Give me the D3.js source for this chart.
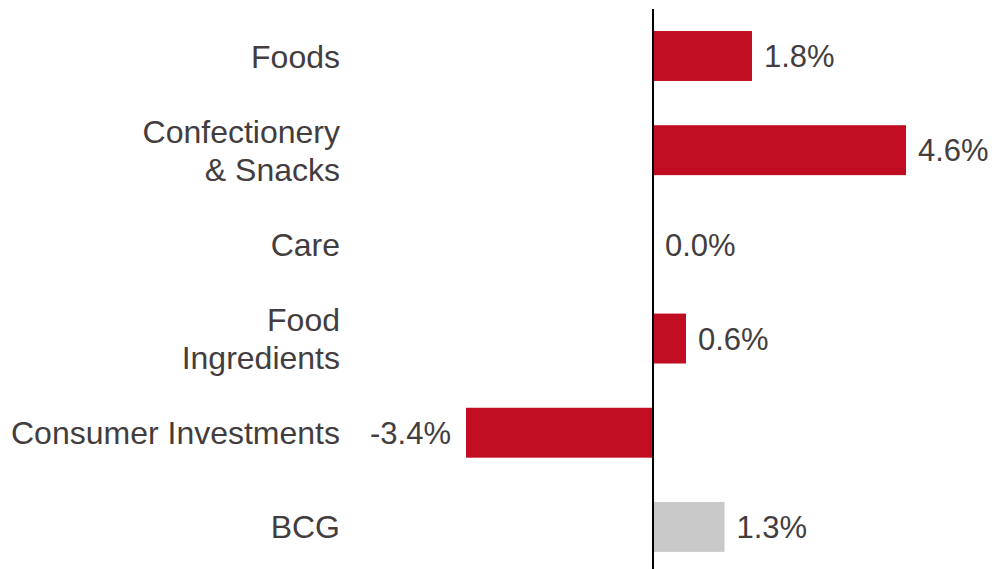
<!DOCTYPE html>
<html>
<head>
<meta charset="utf-8">
<script src="https://cdn.jsdelivr.net/npm/d3@7"></script>
<style>
  body { margin: 0; background: #fff; }
  text { font-family: "Liberation Sans", Arial, sans-serif; fill: #433d3f; }
</style>
</head>
<body>
<div id="chart"></div>
<script>
var categories = ["Foods", "Confectionery\n& Snacks", "Care", "Food\nIngredients", "Consumer Investments", "BCG"];
var values = [1.8, 4.6, 0.0, 0.6, -3.4, 1.3];
var labels = ["1.8%", "4.6%", "0.0%", "0.6%", "-3.4%", "1.3%"];
var highlight = [false, false, false, false, false, true];

var width = 995, height = 569;
var valueFont = 31, catFont = 32;

var data = categories.map(function (c, i) {
  return { cat: c, value: values[i], label: labels[i], grey: highlight[i] };
});

var svg = d3.select("#chart").append("svg")
  .attr("width", width).attr("height", height);

var x = d3.scaleLinear().domain([-4, 4]).range([433, 873]);
var y = d3.scaleBand().domain(categories).range([8.9, 574])
  .paddingInner(0.47).paddingOuter(0.235);

// bars
svg.selectAll(".bar")
  .data(data)
  .enter()
  .append("rect")
  .attr("class", "bar")
  .attr("x", function (d) { return Math.min(x(0), x(d.value)); })
  .attr("y", function (d) { return y(d.cat); })
  .attr("width", function (d) { return Math.abs(x(d.value) - x(0)); })
  .attr("height", y.bandwidth())
  .attr("fill", function (d) { return d.grey ? "#c9c9c9" : "#c00d21"; });

// zero line
svg.append("line")
  .attr("x1", x(0)).attr("x2", x(0))
  .attr("y1", 9).attr("y2", height)
  .attr("stroke", "#000").attr("stroke-width", 2);

// value labels
svg.selectAll(".val")
  .data(data)
  .enter()
  .append("text")
  .attr("class", "val")
  .attr("x", function (d) { return d.value < 0 ? x(d.value) - 15 : x(d.value) + 12; })
  .attr("y", function (d) { return y(d.cat) + y.bandwidth() / 2; })
  .attr("dy", "0.36em")
  .attr("text-anchor", function (d) { return d.value < 0 ? "end" : "start"; })
  .style("font-size", valueFont + "px")
  .text(function (d) { return d.label; });

// category labels
var lineH = 38;
svg.selectAll(".cat")
  .data(data)
  .enter()
  .append("text")
  .attr("class", "cat")
  .attr("text-anchor", "end")
  .style("font-size", catFont + "px")
  .each(function (d) {
    var lines = d.cat.split("\n");
    var cy = y(d.cat) + y.bandwidth() / 2;
    var top = cy - (lines.length - 1) * lineH / 2;
    d3.select(this).selectAll("tspan")
      .data(lines)
      .enter()
      .append("tspan")
      .attr("x", 340)
      .attr("y", function (l, i) { return top + i * lineH; })
      .attr("dy", "0.36em")
      .text(function (l) { return l; });
  });
</script>
</body>
</html>
